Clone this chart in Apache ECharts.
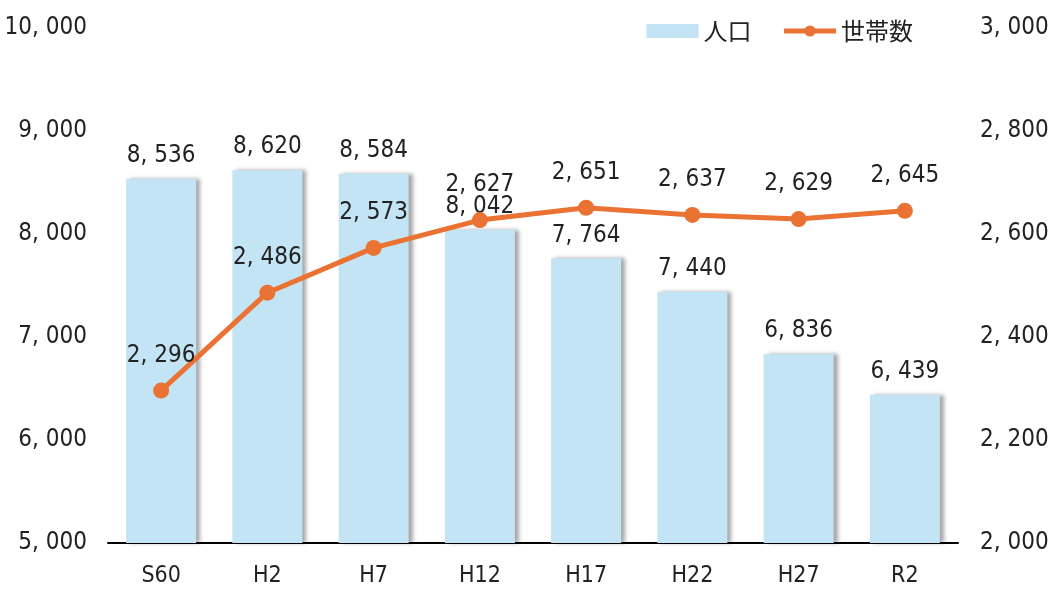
<!DOCTYPE html>
<html>
<head>
<meta charset="utf-8">
<script src="https://cdn.jsdelivr.net/npm/echarts@6/dist/echarts.min.js"></script>
<style>
  html, body { margin: 0; padding: 0; background: #fff; }
  #chart { width: 1052px; height: 590px; }
</style>
</head>
<body>
<div id="chart"></div>
<script>
const categories = ['S60', 'H2', 'H7', 'H12', 'H17', 'H22', 'H27', 'R2'];
const population = [8536, 8620, 8584, 8042, 7764, 7440, 6836, 6439];
const households = [2296, 2486, 2573, 2627, 2651, 2637, 2629, 2645];

const numFont = "'Liberation Sans Narrow', 'DejaVu Sans Condensed', sans-serif";
const cjkFont = "'Noto Sans CJK JP', sans-serif";
const fmt = (v) => {
  const s = String(v);
  return s.length > 3 ? s.slice(0, -3) + ', ' + s.slice(-3) : s;
};

const chart = echarts.init(document.getElementById('chart'));
const option = {
  animation: false,
  grid: { left: 108, right: 94, top: 28, bottom: 47, containLabel: false, outerBoundsMode: 'none' },
  legend: {
    right: 134,
    top: 14,
    itemWidth: 52,
    itemHeight: 14,
    itemGap: 30,
    textStyle: { fontFamily: cjkFont, fontSize: 24, color: '#222' },
    data: [
      { name: '人口', icon: 'rect' },
      { name: '世帯数', itemStyle: { color: '#EA7232' }, lineStyle: { width: 5, color: '#EA7232' } }
    ]
  },
  xAxis: {
    type: 'category',
    data: categories,
    axisLine: { lineStyle: { color: '#000', width: 2 } },
    axisTick: { show: false },
    axisLabel: { fontFamily: numFont, fontSize: 23, color: '#222', margin: 22 }
  },
  yAxis: [
    {
      type: 'value',
      min: 5000,
      max: 10000,
      interval: 1000,
      axisLine: { show: false },
      axisTick: { show: false },
      splitLine: { show: false },
      axisLabel: { fontFamily: numFont, fontSize: 24, color: '#222', margin: 21, formatter: fmt }
    },
    {
      type: 'value',
      min: 2000,
      max: 3000,
      interval: 200,
      axisLine: { show: false },
      axisTick: { show: false },
      splitLine: { show: false },
      axisLabel: { fontFamily: numFont, fontSize: 24, color: '#222', margin: 22, formatter: fmt }
    }
  ],
  series: [
    {
      name: '人口',
      type: 'bar',
      data: population,
      barWidth: 70,
      itemStyle: {
        color: '#C3E4F4',
        shadowColor: 'rgba(0,0,0,0.35)',
        shadowBlur: 4,
        shadowOffsetX: 4,
        shadowOffsetY: 0
      },
      label: {
        show: true,
        position: 'top',
        distance: 11,
        fontFamily: numFont,
        fontSize: 24,
        color: '#222',
        formatter: (p) => fmt(p.value)
      }
    },
    {
      name: '世帯数',
      type: 'line',
      yAxisIndex: 1,
      data: households,
      symbol: 'circle',
      symbolSize: 16,
      itemStyle: { color: '#EA7232' },
      lineStyle: { color: '#EA7232', width: 5 },
      label: {
        show: true,
        position: 'top',
        distance: 15,
        fontFamily: numFont,
        fontSize: 24,
        color: '#222',
        formatter: (p) => fmt(p.value)
      },
      z: 5
    }
  ]
};
chart.setOption(option);
</script>
</body>
</html>
